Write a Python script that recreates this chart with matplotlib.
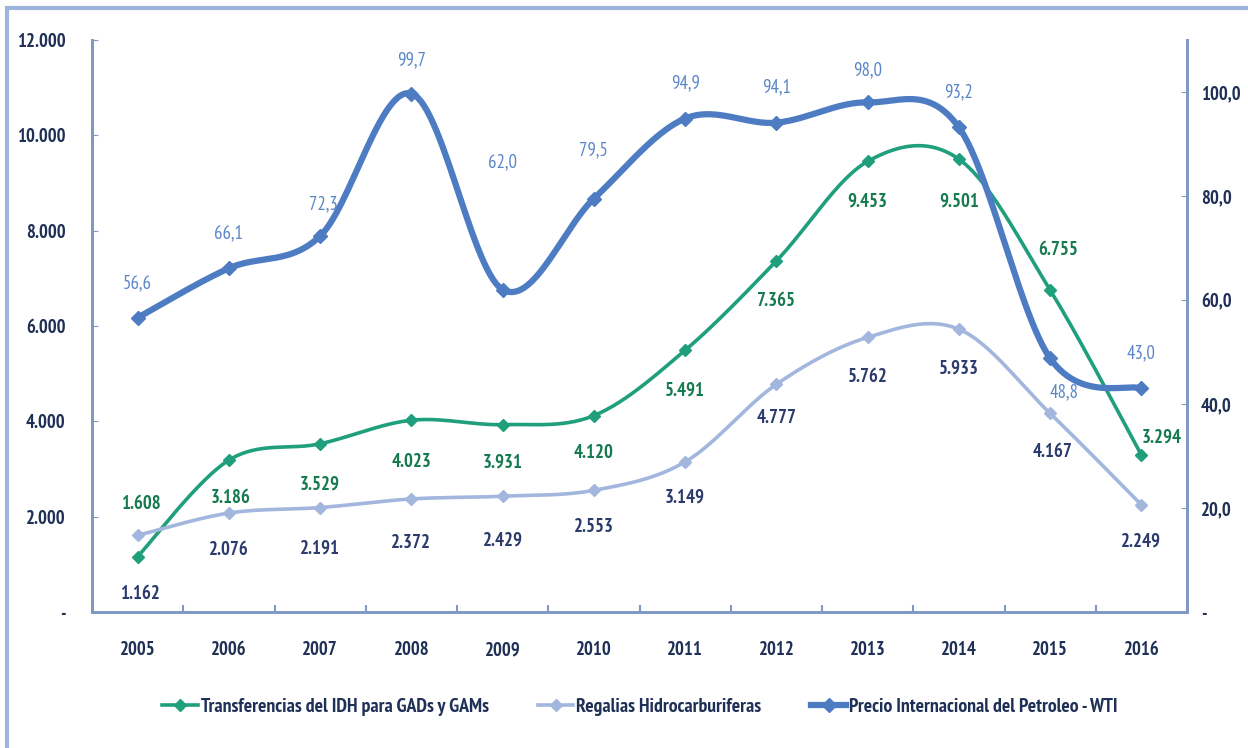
import numpy as np
import matplotlib
matplotlib.use("Agg")
import matplotlib.pyplot as plt
from matplotlib.patches import Rectangle
from matplotlib.lines import Line2D

# narrow face close to Calibri, with fallbacks
plt.rcParams['font.family'] = ['PT Sans Narrow', 'Roboto Condensed', 'DejaVu Sans']

years = ["2005", "2006", "2007", "2008", "2009", "2010",
         "2011", "2012", "2013", "2014", "2015", "2016"]
transferencias = [1162, 3186, 3529, 4023, 3931, 4120, 5491, 7365, 9453, 9501, 6755, 3294]
regalias = [1608, 2076, 2191, 2372, 2429, 2553, 3149, 4777, 5762, 5933, 4167, 2249]
wti = [56.6, 66.1, 72.3, 99.7, 62.0, 79.5, 94.9, 94.1, 98.0, 93.2, 48.8, 43.0]

# label texts as printed in the source (first two are swapped there)
transf_labels = ["1.608", "3.186", "3.529", "4.023", "3.931", "4.120",
                 "5.491", "7.365", "9.453", "9.501", "6.755", "3.294"]
regal_labels = ["1.162", "2.076", "2.191", "2.372", "2.429", "2.553",
                "3.149", "4.777", "5.762", "5.933", "4.167", "2.249"]
wti_labels = ["56,6", "66,1", "72,3", "99,7", "62,0", "79,5",
              "94,9", "94,1", "98,0", "93,2", "48,8", "43,0"]

# label offsets in pixels (dx, dy up)
transf_off = [(3, 53), (2, -38), (0, -41), (0, -42), (0, -38), (0, -37),
              (0, -40), (0, -40), (0, -40), (0, -42), (8, 40), (20, 17)]
regal_off = [(2, -59), (0, -37), (0, -41), (0, -44), (0, -44), (0, -37),
             (0, -36), (0, -34), (0, -40), (0, -39), (2, -39), (0, -37)]
wti_off = [(0, 34), (0, 35), (3, 32), (0, 33), (0, 127), (0, 48),
           (0, 35), (0, 35), (0, 32), (0, 35), (14, -34), (0, 35)]

GREEN = "#1f9f7c"
LIGHT = "#a3b6de"
DARK = "#4d7cc3"
NAVY = "#1f3056"
FS = 13.5


def smooth(x, y, n=30):
    pts = np.column_stack([x, y]).astype(float)
    P = np.vstack([pts[0], pts, pts[-1]])
    t = np.linspace(0, 1, n)[:, None]
    out = []
    for i in range(len(pts) - 1):
        p0, p1, p2, p3 = P[i], P[i + 1], P[i + 2], P[i + 3]
        c1 = p1 + (p2 - p0) / 6
        c2 = p2 - (p3 - p1) / 6
        seg = ((1 - t) ** 3) * p1 + 3 * ((1 - t) ** 2) * t * c1 + 3 * (1 - t) * t ** 2 * c2 + t ** 3 * p2
        out.append(seg if i == 0 else seg[1:])
    out = np.vstack(out)
    return out[:, 0], out[:, 1]


fig = plt.figure(figsize=(12.48, 7.48), dpi=100)
ax = fig.add_axes([92 / 1248, 1 - 612 / 748, 1095 / 1248, 572 / 748])
ax2 = ax.twinx()

x = np.arange(len(years))

sx, sy = smooth(x, transferencias)
ax.plot(sx, sy, color=GREEN, lw=2.6, zorder=3)
ax.plot(x, transferencias, ls="none", marker="D", ms=6, color=GREEN, zorder=4)
sx, sy = smooth(x, regalias)
ax.plot(sx, sy, color=LIGHT, lw=2.6, zorder=3)
ax.plot(x, regalias, ls="none", marker="D", ms=6, color=LIGHT, zorder=4)
sx, sy = smooth(x, wti)
ax2.plot(sx, sy, color=DARK, lw=4.5, zorder=3)
ax2.plot(x, wti, ls="none", marker="D", ms=7, color=DARK, zorder=4)

k = 0.72
for i in range(len(years)):
    ax.annotate(transf_labels[i], (i, transferencias[i]),
                xytext=(transf_off[i][0] * k, transf_off[i][1] * k), textcoords="offset points",
                ha="center", va="center", fontsize=FS, fontweight="bold", color="#167a50")
    ax.annotate(regal_labels[i], (i, regalias[i]),
                xytext=(regal_off[i][0] * k, regal_off[i][1] * k), textcoords="offset points",
                ha="center", va="center", fontsize=FS, fontweight="bold", color="#2a3b6c")
    ax2.annotate(wti_labels[i], (i, wti[i]),
                 xytext=(wti_off[i][0] * k, wti_off[i][1] * k), textcoords="offset points",
                 ha="center", va="center", fontsize=FS, color="#5a86c8")

ax.set_xlim(-0.5, len(years) - 0.5)
ax.set_ylim(0, 12000)
ax2.set_ylim(0, 110)

ax.set_xticks(x)
ax.set_xticklabels(years)
ax.set_xticks(np.arange(-0.5, len(years), 1), minor=True)
ax.tick_params(axis="x", which="major", length=0, pad=21, labelsize=FS, labelcolor=NAVY)
ax.tick_params(axis="x", which="minor", length=5, direction="in", color="#7f98c6", width=1.5)
for lbl in ax.get_xticklabels():
    lbl.set_fontweight("bold")

ax.set_yticks(np.arange(0, 12001, 2000))
ax.set_yticklabels(["-"] + [f"{v:,}".replace(",", ".") for v in range(2000, 12001, 2000)])
ax.tick_params(axis="y", length=4, direction="in", color="#7f98c6", pad=19, labelsize=FS, labelcolor=NAVY)
for lbl in ax.get_yticklabels():
    lbl.set_fontweight("bold")

ax2.set_yticks(np.arange(0, 101, 20))
ax2.set_yticklabels(["-"] + [f"{v:.1f}".replace(".", ",") for v in range(20, 101, 20)])
ax2.tick_params(axis="y", length=4, direction="in", color="#7f98c6", pad=10, labelsize=FS, labelcolor=NAVY)
for lbl in ax2.get_yticklabels():
    lbl.set_fontweight("bold")

for a in (ax, ax2):
    a.spines["top"].set_visible(False)
    for s in ("left", "right", "bottom"):
        a.spines[s].set_color("#7f98c6")
        a.spines[s].set_linewidth(2)

handles = [
    Line2D([], [], color=GREEN, lw=2.6, marker="D", ms=6),
    Line2D([], [], color=LIGHT, lw=2.6, marker="D", ms=6),
    Line2D([], [], color=DARK, lw=4.5, marker="D", ms=7),
]
names = ["Transferencias del IDH para GADs y GAMs", "Regalias Hidrocarburiferas",
         "Precio Internacional del Petroleo - WTI"]
leg = fig.legend(handles, names, loc="center", bbox_to_anchor=(640 / 1248, 1 - 707 / 748),
                 ncol=3, frameon=False, handlelength=1.8, handletextpad=0.15, columnspacing=2.5,
                 prop={"size": 14.2, "weight": "bold"})
for t in leg.get_texts():
    t.set_color(NAVY)

fig.patches.append(Rectangle((7 / 1248, -0.02), 1.1, 1 - 8 / 748 + 0.02, transform=fig.transFigure,
                             fill=False, edgecolor="#9db5dd", lw=3))

fig.savefig("out.png", dpi=100)
